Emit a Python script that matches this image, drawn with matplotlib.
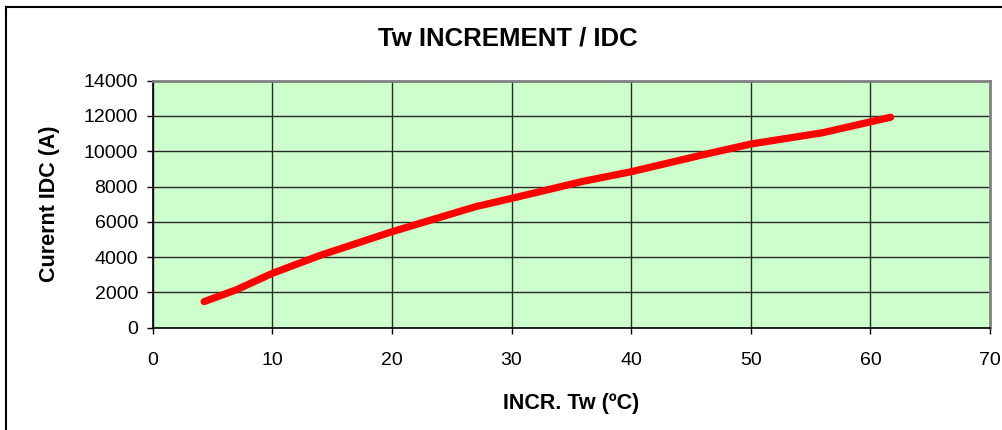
import matplotlib
matplotlib.use("Agg")
import matplotlib.pyplot as plt
from matplotlib.lines import Line2D

# data
incr_tw = [4.3, 7.0, 10.0, 14.0, 20.0, 27.0, 30.0, 36.0, 40.0, 46.0, 50.0, 56.0, 61.7]
current_idc = [1480, 2150, 3080, 4100, 5440, 6860, 7330, 8300, 8840, 9800, 10410, 11050, 11930]
x_ticks = [0, 10, 20, 30, 40, 50, 60, 70]
y_ticks = [0, 2000, 4000, 6000, 8000, 10000, 12000, 14000]

plt.rcParams['font.family'] = ['Liberation Sans', 'DejaVu Sans']

W, H = 1002, 430
fig = plt.figure(figsize=(W / 100, H / 100), dpi=100)
ax = fig.add_axes([152.7 / W, 1 - 327.7 / H, (990 - 152.7) / W, (327.7 - 80.7) / H])
ax.set_facecolor('#CCFFCC')

ax.plot(incr_tw, current_idc, color='#FF0000', lw=5.2, solid_capstyle='round',
        solid_joinstyle='round', zorder=3)

ax.set_xlim(0, 70)
ax.set_ylim(0, 14000)
ax.set_xticks(x_ticks)
ax.set_yticks(y_ticks)
ax.grid(True, color='#2a2a2a', lw=1.0, zorder=1)
ax.set_axisbelow(True)

for side in ['left', 'bottom']:
    ax.spines[side].set_color('black')
    ax.spines[side].set_linewidth(1.2)
for side in ['top', 'right']:
    ax.spines[side].set_color('#808080')
    ax.spines[side].set_linewidth(2.0)

ax.tick_params(axis='both', direction='out', length=4.5, width=1, colors='black',
               labelsize=14)
ax.tick_params(axis='y', pad=6)
ax.tick_params(axis='x', pad=13)

ax.set_xlabel('INCR. Tw (ºC)', fontsize=15.5, fontweight='bold', labelpad=17)
ax.set_ylabel('Curernt IDC (A)', fontsize=15.5, fontweight='bold', labelpad=17)
fig.text(508 / W, 1 - 38 / H, 'Tw INCREMENT / IDC', ha='center', va='center',
         fontsize=18.5, fontweight='bold')

# outer chart frame (left and top edges visible)
fig.add_artist(Line2D([6 / W, 6 / W], [0, 1 - 7 / H], color='black', lw=1.5))
fig.add_artist(Line2D([6 / W, 1], [1 - 7 / H, 1 - 7 / H], color='black', lw=1.5))

fig.savefig('out.png', dpi=100)
